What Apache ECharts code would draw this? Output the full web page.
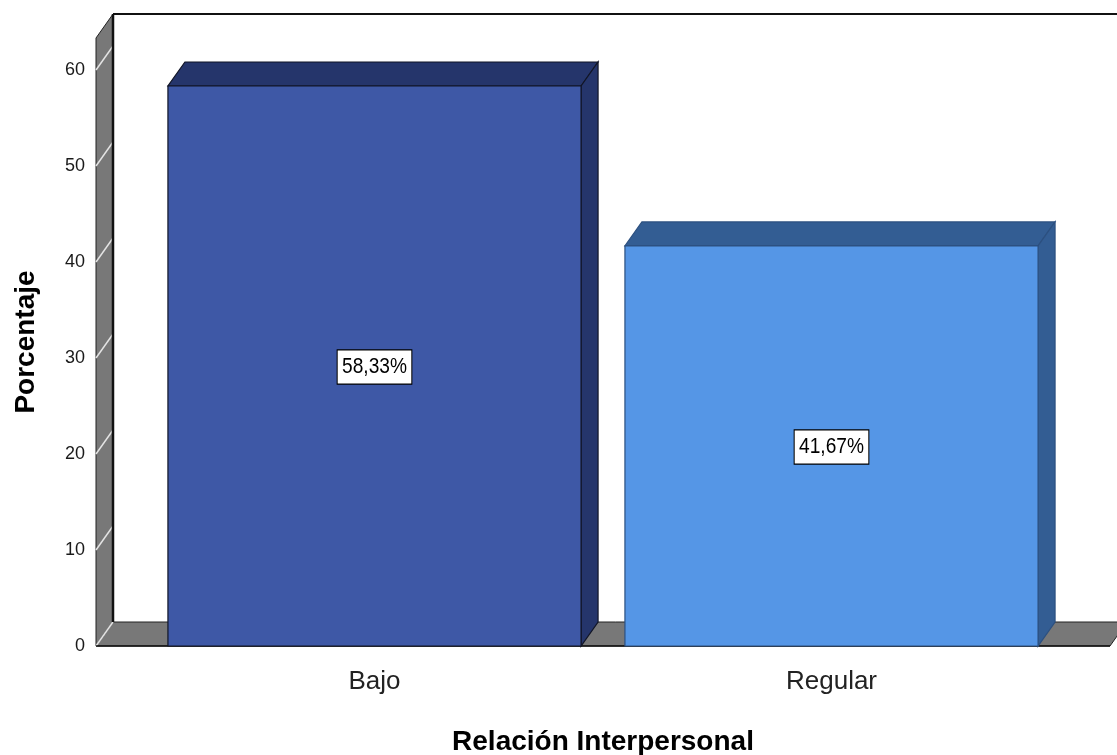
<!DOCTYPE html>
<html>
<head>
<meta charset="utf-8">
<script src="https://cdn.jsdelivr.net/npm/echarts@6/dist/echarts.min.js"></script>
<style>
  html, body { margin: 0; padding: 0; background: #ffffff; }
  #chart { width: 1117px; height: 755px; }
</style>
</head>
<body>
<div id="chart"></div>
<script>
// ---- data ----
const categories = ['Bajo', 'Regular'];
const percentages = [58.33, 41.67];
const yTickValues = [0, 10, 20, 30, 40, 50, 60];
const xAxisTitle = 'Relación Interpersonal';
const yAxisTitle = 'Porcentaje';

// ---- styles ----
const frontColors = ['#3E58A6', '#5596E6'];
const shadeColors = ['#25356B', '#335D93'];
const edgeColors = ['#111526', '#2C5080'];
const DX = 17, DY = -24;      // 3D depth offset
const WALL_OUT = 50;          // wall/floor extend beyond grid
const FONT = 'Arial, "Liberation Sans", sans-serif';

const chart = echarts.init(document.getElementById('chart'), null, { renderer: 'canvas' });

function fmt(v) { return v.toFixed(2).replace('.', ',') + '%'; }

function renderFrame(params, api) {
  const cs = params.coordSys;
  const left = cs.x - WALL_OUT;
  const right = cs.x + cs.width + WALL_OUT;
  const bottom = api.coord([0, 0])[1];
  const topY = cs.y;
  const children = [];
  children.push({
    type: 'polygon',
    shape: { points: [[left, bottom], [right, bottom], [right + DX, bottom + DY], [left + DX, bottom + DY]] },
    style: { fill: '#787878', stroke: '#222', lineWidth: 1 }
  });
  children.push({
    type: 'polygon',
    shape: { points: [[left, bottom], [left, topY], [left + DX, topY + DY], [left + DX, bottom + DY]] },
    style: { fill: '#787878', stroke: '#222', lineWidth: 1 }
  });
  yTickValues.forEach(function (v) {
    const y = api.coord([0, v])[1];
    children.push({
      type: 'line',
      shape: { x1: left, y1: y, x2: left + DX, y2: y + DY },
      style: { stroke: '#E4E4E4', lineWidth: 1.5 }
    });
  });
  children.push({
    type: 'line',
    shape: { x1: left + DX, y1: topY + DY, x2: left + DX, y2: bottom + DY },
    style: { stroke: '#111', lineWidth: 2.5 }
  });
  children.push({
    type: 'line',
    shape: { x1: left + DX, y1: topY + DY, x2: right + 200, y2: topY + DY },
    style: { stroke: '#111', lineWidth: 2 }
  });
  children.push({
    type: 'line',
    shape: { x1: left, y1: bottom, x2: right, y2: bottom },
    style: { stroke: '#111', lineWidth: 1.5 }
  });
  return { type: 'group', children: children };
}

function renderBar(params, api) {
  const idx = api.value(0);
  const v = api.value(1);
  const base = api.coord([idx, 0]);
  const top = api.coord([idx, v]);
  const band = api.size([1, 0])[0];
  const w = band * 0.904;
  const x0 = base[0] - w / 2, x1 = base[0] + w / 2;
  const y0 = base[1], y1 = top[1];
  const i = params.dataIndex;
  const edge = { stroke: edgeColors[i], lineWidth: 1.2 };
  return {
    type: 'group',
    children: [
      {
        type: 'polygon',
        shape: { points: [[x0, y1], [x1, y1], [x1 + DX, y1 + DY], [x0 + DX, y1 + DY]] },
        style: Object.assign({ fill: shadeColors[i] }, edge)
      },
      {
        type: 'polygon',
        shape: { points: [[x1, y1], [x1 + DX, y1 + DY], [x1 + DX, y0 + DY], [x1, y0]] },
        style: Object.assign({ fill: shadeColors[i] }, edge)
      },
      {
        type: 'rect',
        shape: { x: x0, y: y1, width: w, height: y0 - y1 },
        style: Object.assign({ fill: frontColors[i] }, edge)
      },
      {
        type: 'text',
        x: (x0 + x1) / 2,
        y: (y0 + y1) / 2 + 1,
        scaleX: 0.87,
        style: {
          text: fmt(v),
          fill: '#000',
          font: '22px ' + FONT,
          align: 'center',
          verticalAlign: 'middle',
          backgroundColor: '#fff',
          borderColor: '#000',
          borderWidth: 1.2,
          padding: [6, 5, 5, 5]
        }
      }
    ]
  };
}

const option = {
  backgroundColor: '#ffffff',
  animation: false,
  grid: { left: 146, right: 57, top: 38, bottom: 109, containLabel: false, outerBoundsMode: 'none' },
  xAxis: {
    type: 'category',
    data: categories,
    boundaryGap: true,
    axisLine: { show: false },
    axisTick: { show: false },
    splitLine: { show: false },
    axisLabel: { fontSize: 26, color: '#222', margin: 23, fontFamily: FONT },
    name: xAxisTitle,
    nameLocation: 'middle',
    nameGap: 82,
    nameTextStyle: { fontSize: 28, fontWeight: 'bold', color: '#000', fontFamily: FONT }
  },
  yAxis: {
    type: 'value',
    min: 0,
    max: 63.33,
    interval: 10,
    axisLine: { show: false },
    axisTick: { show: false },
    splitLine: { show: false },
    axisLabel: { fontSize: 18, color: '#1a1a1a', margin: 61, fontFamily: FONT, showMaxLabel: false,
      formatter: function (v) { return yTickValues.indexOf(v) >= 0 ? String(v) : ''; } },
    name: yAxisTitle,
    nameLocation: 'middle',
    nameGap: 106,
    nameRotate: 90,
    nameTextStyle: { fontSize: 28, fontWeight: 'bold', color: '#000', fontFamily: FONT }
  },
  series: [
    {
      type: 'custom',
      silent: true,
      z: 1,
      renderItem: renderFrame,
      data: [[0, 0]]
    },
    {
      type: 'custom',
      z: 2,
      renderItem: renderBar,
      encode: { x: 0, y: 1 },
      data: categories.map(function (c, i) { return [i, percentages[i]]; })
    }
  ]
};
chart.setOption(option);
</script>
</body>
</html>
